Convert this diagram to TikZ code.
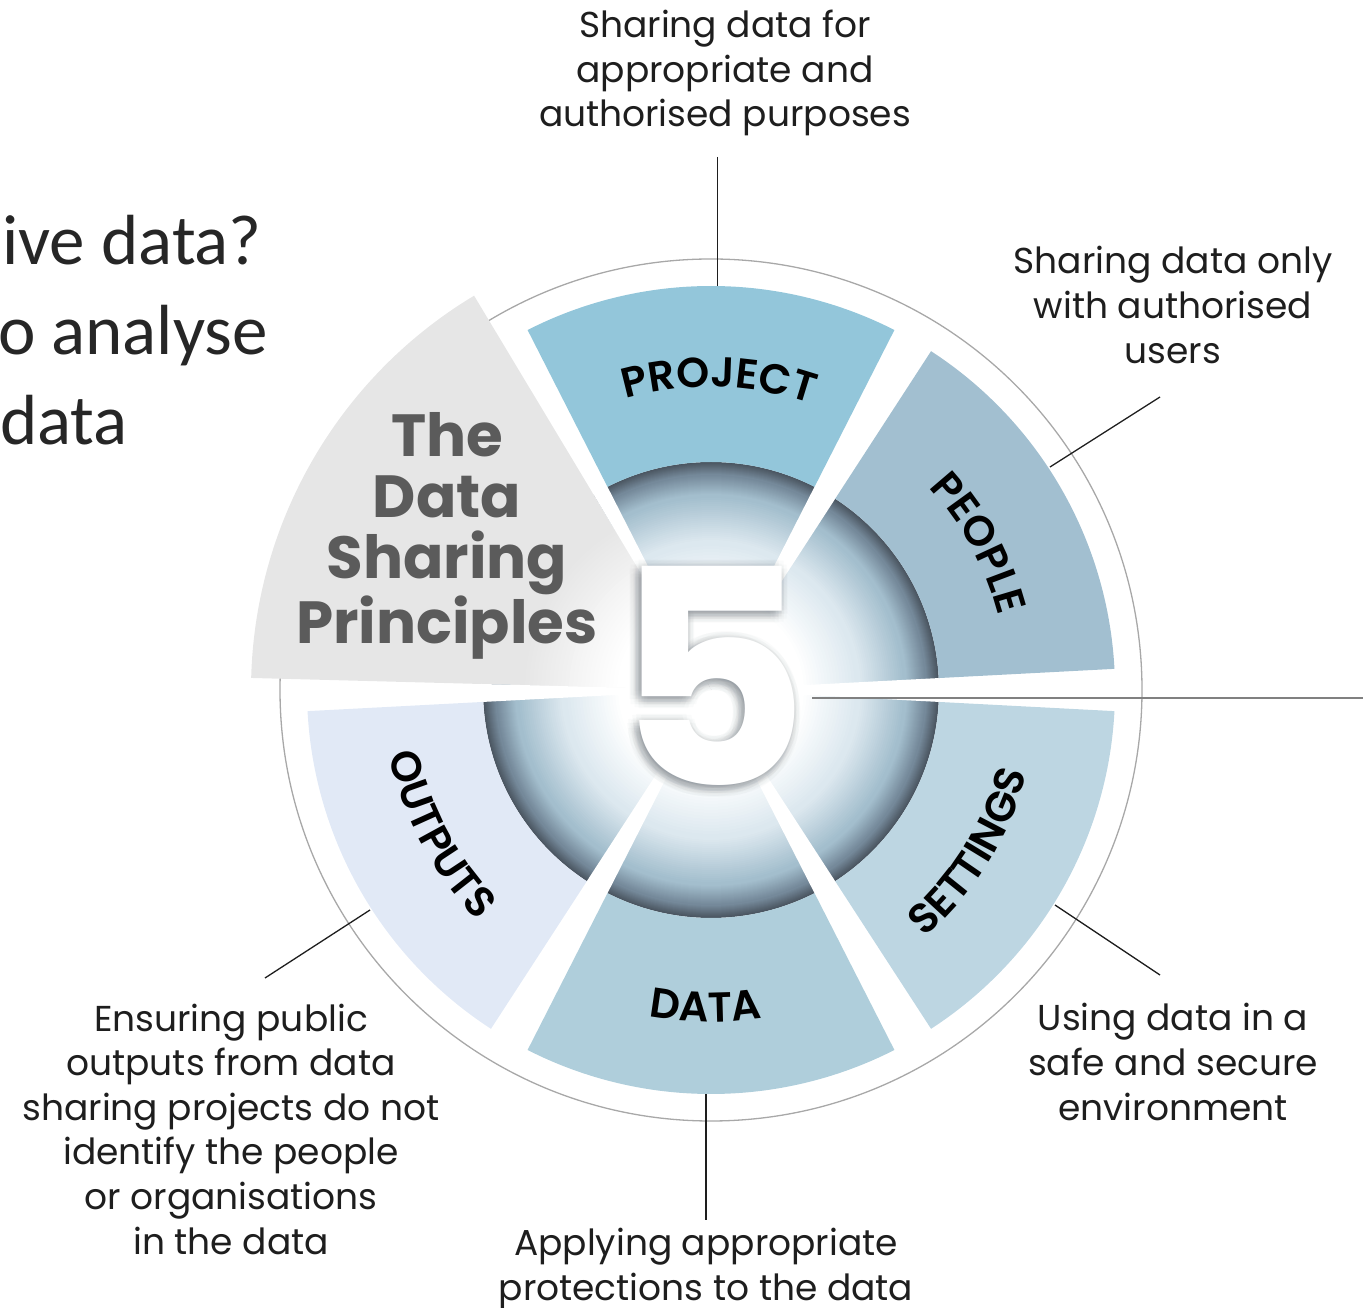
\documentclass[tikz,border=0pt]{standalone}
\usepackage{fontspec}
\setmainfont{Poppins}
\newfontfamily\slidefont{Carlito}
\newfontfamily\labelfont{Poppins SemiBold}
\usetikzlibrary{decorations.text}

\definecolor{projfill}{HTML}{93C6DA}
\definecolor{peoplefill}{HTML}{A2BFD0}
\definecolor{settingsfill}{HTML}{BDD6E2}
\definecolor{datafill}{HTML}{AFCEDB}
\definecolor{outputsfill}{HTML}{E1E9F6}
\definecolor{greyfill}{HTML}{E6E6E6}
\definecolor{titlegrey}{HTML}{5B5B5B}
\definecolor{ringgrey}{HTML}{A8A8A8}
\definecolor{bowlpale}{HTML}{DCE8EF}
\definecolor{bowlblue}{HTML}{A3BECD}
\definecolor{bowlsteel}{HTML}{75899A}
\definecolor{bowldark}{HTML}{4A5560}
\definecolor{inktext}{HTML}{1E1E1E}
\definecolor{slidegrey}{HTML}{262626}

\newcommand{\labelsize}{\labelfont\fontsize{42}{42}\selectfont}
\newcommand{\ringpart}[3]{%
    \fill[#1] (#2:228) arc[start angle=#2, end angle=#3, radius=228] -- (#3:404) arc[start angle=#3, end angle=#2, radius=404] -- cycle;}
\newcommand{\arclabel}[4]{%
    \path[decorate, decoration={text along path, text align=center, text={|\labelsize|#1}}] (#2:#4) arc[start angle=#2, end angle=#3, radius=#4];}

\begin{document}
\begin{tikzpicture}[x=1pt, y=1pt]
\useasboundingbox (0,0) rectangle (1363,1307);
\coordinate (C) at (711,617);

\begin{scope}[every node/.style={anchor=base east, inner sep=0pt, text=slidegrey, font=\slidefont\fontsize{71}{85}\selectfont}]
    \node (slideone) at (262,1042) {ive data?};
    \node (slidetwo) at (268,952) {o analyse};
    \node (slidethree) at (128,862) {data};
\end{scope}

\draw[ringgrey, line width=1.3pt] (C) circle (431);

\begin{scope}[shift={(C)}]
    \foreach \r in {228,227,...,216} {
        \pgfmathsetmacro\p{100*(\r-216)/12}
        \fill[bowldark!\p!bowlsteel] (0,0) circle (\r);}
    \foreach \r in {215,214,...,196} {
        \pgfmathsetmacro\p{100*(\r-196)/19}
        \fill[bowlsteel!\p!bowlblue] (0,0) circle (\r);}
    \foreach \r in {194,192,...,150} {
        \pgfmathsetmacro\p{100*(\r-150)/44}
        \fill[bowlblue!\p!bowlpale] (0,0) circle (\r);}
    \foreach \r in {147,144,...,93} {
        \pgfmathsetmacro\p{100*(\r-93)/54}
        \fill[bowlpale!\p!white] (0,0) circle (\r);}
\end{scope}

\begin{scope}[shift={(C)}]
    \clip (0,0) -- (121:460) arc[start angle=121, end angle=178.5, radius=460] -- cycle;
    \fill[greyfill] (0,0) circle (460);
    \foreach \r in {190,186,...,94} {
        \pgfmathsetmacro\p{100*(\r-94)/96}
        \fill[greyfill!\p!white] (0,0) circle (\r);}
\end{scope}

\begin{scope}[shift={(C)}]
    \foreach \a/\b in {-3/3,57/63,117/121,178.5/183,237/243,297/303}
        \fill[white] (0,0) -- (\a:230) arc[start angle=\a, end angle=\b, radius=230] -- cycle;
    \ringpart{projfill}{63}{117}
    \ringpart{peoplefill}{3}{57}
    \ringpart{settingsfill}{-57}{-3}
    \ringpart{datafill}{-117}{-63}
    \ringpart{outputsfill}{183}{237}
    \arclabel{PROJECT}{118.5}{58.5}{303}
    \arclabel{PEOPLE}{58.7}{-1.3}{297}
    \arclabel{SETTINGS}{-62}{-2}{327}
    \arclabel{DATA}{-121}{-61}{332}
    \arclabel{OUTPUTS}{178}{238}{328}
\end{scope}

\node (title)[align=center, text=titlegrey, font=\bfseries\fontsize{59.5}{61.3}\selectfont] at (447,771) {The\\Data\\Sharing\\Principles};

\coordinate (fivepos) at (712,631);
\foreach \r in {3,6,9}
    \foreach \ang in {0,30,...,330}
        \node[text=bowldark, opacity=0.025, font=\bfseries\fontsize{300}{300}\selectfont] at ([shift={(\ang:\r)}, shift={(-3,-3)}]fivepos) {5};
\node (five)[text=white, font=\bfseries\fontsize{300}{300}\selectfont] at (fivepos) {5};

\coordinate (projend) at (717.5,1150);
\coordinate (projpin) at (717.5,1021);
\coordinate (peopleend) at (1160,910);
\coordinate (peoplepin) at (1050,840);
\coordinate (settingsend) at (1160,332);
\coordinate (settingspin) at (1055,402);
\coordinate (dataend) at (706,87);
\coordinate (datapin) at (706,213);
\coordinate (outputsend) at (265,329);
\coordinate (outputspin) at (370,397);
\coordinate (spokestart) at (812,609);
\coordinate (spokeend) at (1363,609);

\begin{scope}[every edge/.style={draw=inktext, line width=1.3pt}]
    \path (projend) edge (projpin);
    \path (peopleend) edge (peoplepin);
    \path (settingsend) edge (settingspin);
    \path (dataend) edge (datapin);
    \path (outputsend) edge (outputspin);
    \path (spokestart) edge[draw=gray] (spokeend);
\end{scope}

\begin{scope}[every node/.style={align=center, text=inktext, font=\fontsize{36}{44.6}\selectfont}]
    \node (projnote) at (725,1234) {Sharing data for\\appropriate and\\authorised purposes};
    \node (peoplenote) at (1173,1002) {Sharing data only\\with authorised\\users};
    \node (settingsnote) at (1173,245) {Using data in a\\safe and secure\\environment};
    \node (datanote) at (706,38) {Applying appropriate\\protections to the data};
    \node (outputsnote) at (231,178) {Ensuring public\\outputs from data\\sharing projects do not\\identify the people\\or organisations\\in the data};
\end{scope}
\end{tikzpicture}
\end{document}
